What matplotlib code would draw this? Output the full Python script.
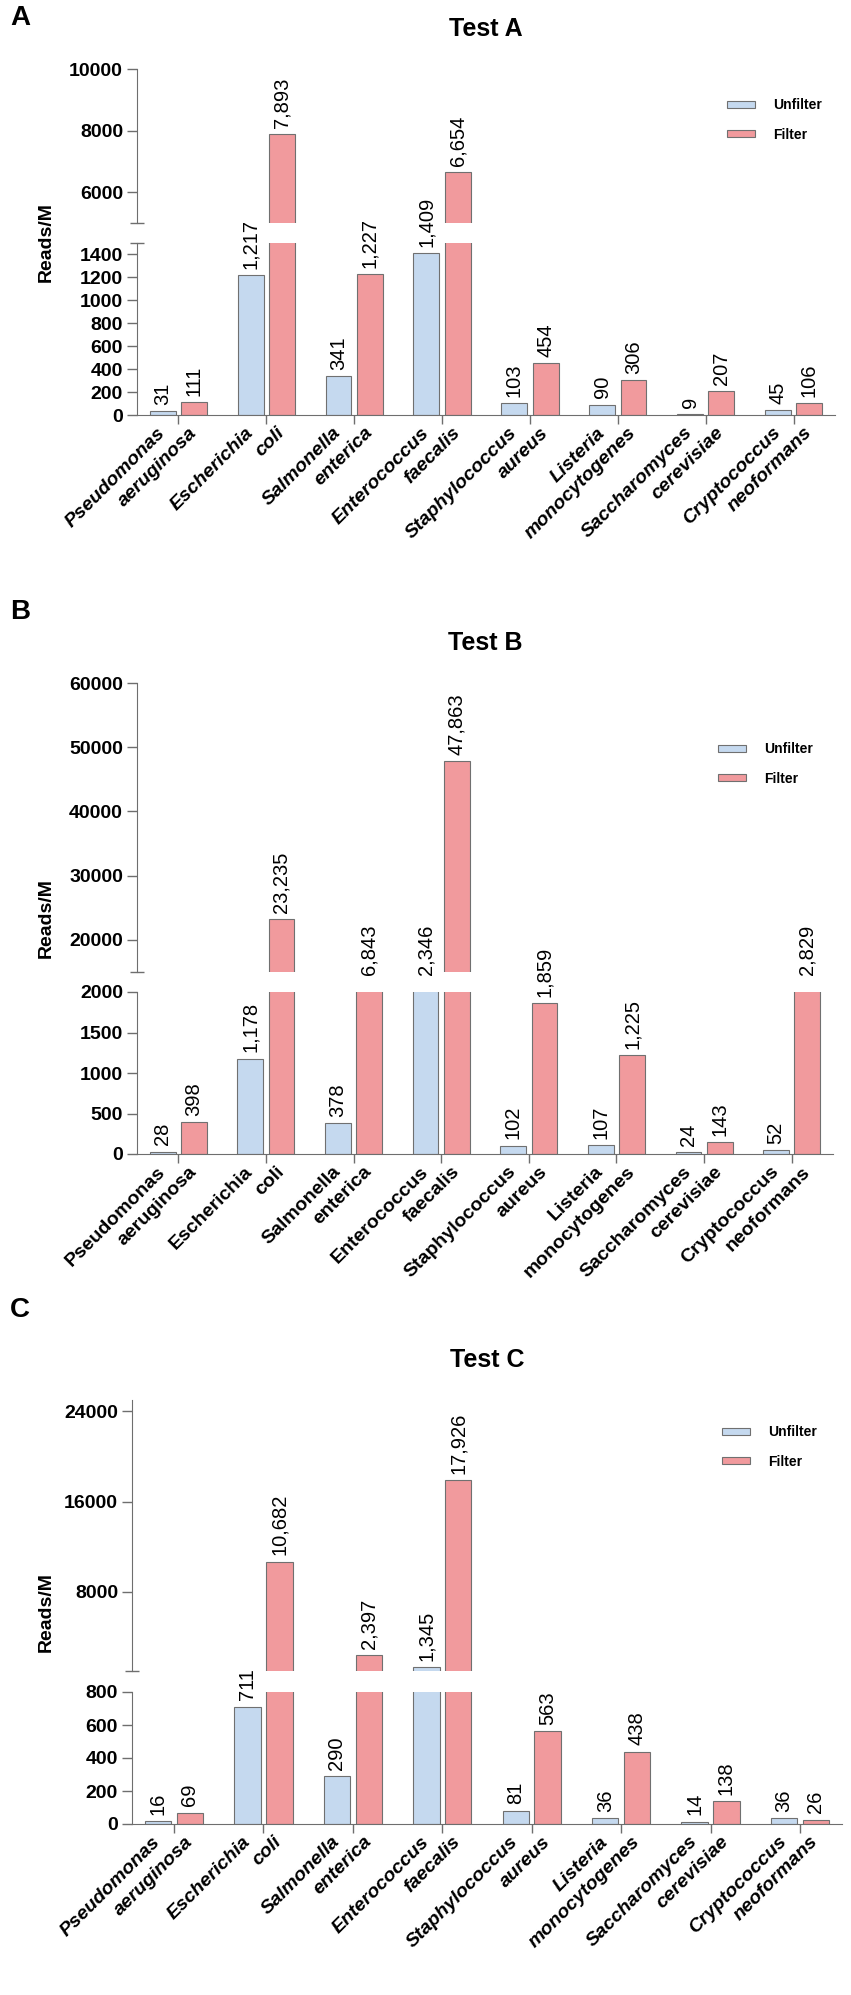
import numpy as np
import matplotlib
matplotlib.use('Agg')
import matplotlib.pyplot as plt
from matplotlib.ticker import FixedLocator

plt.rcParams['font.family'] = ['Liberation Sans', 'DejaVu Sans']

genus = ['Pseudomonas', 'Escherichia', 'Salmonella', 'Enterococcus',
         'Staphylococcus', 'Listeria', 'Saccharomyces', 'Cryptococcus']
species = ['aeruginosa', 'coli', 'enterica', 'faecalis',
           'aureus', 'monocytogenes', 'cerevisiae', 'neoformans']

unfilter_a = [31, 1217, 341, 1409, 103, 90, 9, 45]
filter_a = [111, 7893, 1227, 6654, 454, 306, 207, 106]

unfilter_b = [28, 1178, 378, 2346, 102, 107, 24, 52]
filter_b = [398, 23235, 6843, 47863, 1859, 1225, 143, 2829]

unfilter_c = [16, 711, 290, 1345, 81, 36, 14, 36]
filter_c = [69, 10682, 2397, 17926, 563, 438, 138, 26]

W, H = 851, 1995
BLUE = '#C5D9EF'
RED = '#F19A9D'
EDGE = '#707070'
AXC = '#6E6E6E'
WIDTH = 0.295
OFF = 0.178


def px_box(x0, x1, y0, y1):
    return [x0 / W, 1 - y1 / H, (x1 - x0) / W, (y1 - y0) / H]


fig = plt.figure(figsize=(W / 100, H / 100), dpi=100)


def draw_panel(letter, title, unf, fil, xs, up, low, up_lim, low_lim,
               up_ticks, low_ticks, italic, leg_xy, letter_y):
    ax_u = fig.add_axes(px_box(xs[0], xs[1], *up))
    ax_l = fig.add_axes(px_box(xs[0], xs[1], *low))
    pos = np.arange(len(genus))

    for ax in (ax_u, ax_l):
        bu = ax.bar(pos - OFF, unf, WIDTH, color=BLUE, edgecolor=EDGE,
                    linewidth=0.8, label='Unfilter')
        bf = ax.bar(pos + OFF, fil, WIDTH, color=RED, edgecolor=EDGE,
                    linewidth=0.8, label='Filter')
        ax.set_xlim(-0.47, len(genus) - 0.53)
        for s in ('top', 'right'):
            ax.spines[s].set_visible(False)
        ax.spines['left'].set_color(AXC)
        ax.spines['bottom'].set_color(AXC)
        ax.tick_params(axis='y', which='major', length=7, width=1,
                       color=AXC, pad=3)
        ax.tick_params(axis='y', which='minor', direction='inout',
                       length=9.4, width=1, color=AXC)

    ax_u.set_ylim(*up_lim)
    ax_l.set_ylim(*low_lim)
    ax_u.set_yticks(up_ticks, labels=[str(t) for t in up_ticks],
                    fontsize=14, fontweight='bold')
    ax_l.set_yticks(low_ticks, labels=[str(t) for t in low_ticks],
                    fontsize=14, fontweight='bold')
    # caps at the axis break
    ax_u.yaxis.set_minor_locator(FixedLocator([up_lim[0]]))
    ax_l.yaxis.set_minor_locator(FixedLocator([low_lim[1]]))

    ax_u.spines['bottom'].set_visible(False)
    ax_u.set_xticks([])

    # group ticks at centres, genus / species under each bar
    ax_l.set_xticks(pos, labels=[''] * len(pos))
    ax_l.tick_params(axis='x', which='major', length=6.5, width=1,
                     color=AXC)
    lab_pos = np.ravel(np.column_stack([pos - OFF, pos + OFF]))
    lab_txt = [n for pair in zip(genus, species) for n in pair]
    ax_l.set_xticks(lab_pos, labels=lab_txt, minor=True)
    ax_l.tick_params(axis='x', which='minor', length=0, pad=11)
    for lbl in ax_l.get_xticklabels(minor=True):
        lbl.set_rotation(45)
        lbl.set_ha('right')
        lbl.set_va('center')
        lbl.set_rotation_mode('anchor')
        lbl.set_fontsize(14)
        lbl.set_fontweight('bold')
        lbl.set_fontstyle('italic' if italic else 'normal')

    def label_bar(x, v):
        txt = f'{v:,}'
        kw = dict(textcoords='offset points', rotation=90, ha='center',
                  va='bottom', fontsize=14.5, annotation_clip=False)
        if v <= low_lim[1]:
            ax_l.annotate(txt, (x, v), xytext=(0, 4.5), **kw)
        elif v >= up_lim[0]:
            ax_u.annotate(txt, (x, v), xytext=(0, 4.5), **kw)
        else:
            ax_u.annotate(txt, (x, up_lim[0]), xytext=(0, -2), **kw)

    for i in range(len(genus)):
        label_bar(pos[i] - OFF, unf[i])
        label_bar(pos[i] + OFF, fil[i])

    ax_u.legend(handles=[bu, bf], loc='center left',
                bbox_to_anchor=(leg_xy[0] / W, 1 - leg_xy[1] / H),
                bbox_transform=fig.transFigure, frameon=False,
                prop=dict(weight='bold', size=10), handlelength=2.0,
                handleheight=0.38, labelspacing=1.1, handletextpad=1.3,
                borderpad=0, borderaxespad=0)

    ax_u.annotate(title, (0.5, 1), xycoords='axes fraction',
                  xytext=(0, 29), textcoords='offset points',
                  ha='center', va='center', fontsize=18, fontweight='bold')
    fig.text(10 / W, 1 - letter_y / H, letter, fontsize=20,
             fontweight='bold', ha='left', va='center')
    fig.text(46 / W, 1 - (up[0] + low[1]) / 2 / H, 'Reads/M', rotation=90,
             fontsize=14, fontweight='bold', ha='center', va='center')


draw_panel('A', 'Test A', unfilter_a, filter_a, (137, 835), (69, 223),
           (243, 415), (5000, 10000), (0, 1500), [6000, 8000, 10000],
           list(range(0, 1401, 200)), True, (727, 120), 18)
draw_panel('B', 'Test B', unfilter_b, filter_b, (137, 833), (683, 972),
           (992, 1154), (15000, 60000), (0, 2000),
           [20000, 30000, 40000, 50000, 60000],
           [0, 500, 1000, 1500, 2000], False, (718, 764), 612)
draw_panel('C', 'Test C', unfilter_c, filter_c, (132, 842), (1400, 1671),
           (1692, 1824), (1000, 25000), (0, 800), [8000, 16000, 24000],
           [0, 200, 400, 600, 800], True, (722, 1447), 1310)

fig.savefig('out.png', dpi=100)
